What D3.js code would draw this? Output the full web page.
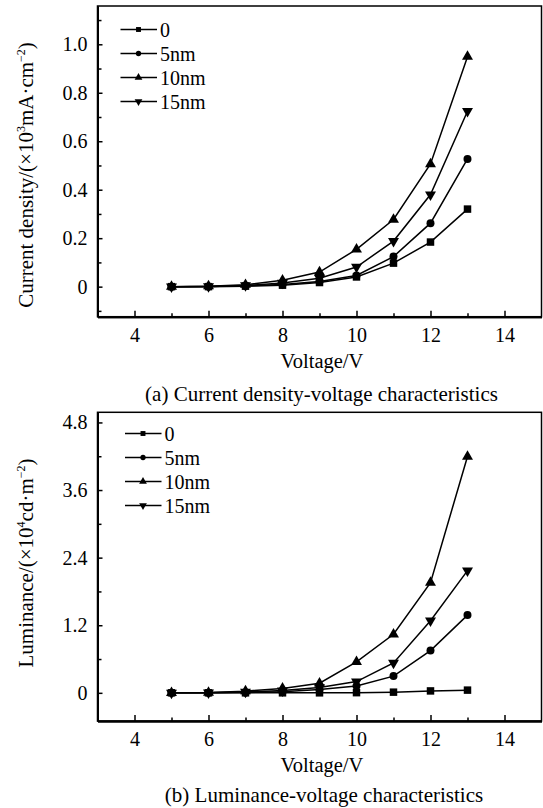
<!DOCTYPE html>
<html>
<head>
<meta charset="utf-8">
<script src="https://cdn.jsdelivr.net/npm/d3@7"></script>
<style>
  body { margin: 0; background: #fff; }
  text { font-family: "Liberation Serif", "Times New Roman", serif; fill: #000; }
</style>
</head>
<body>
<div class="container"></div>
<script>
const WIDTH = 543;
const HEIGHT = 808;
const SERIF = '"Liberation Serif", "Times New Roman", serif';

// data
const voltage = [5, 6, 7, 8, 9, 10, 11, 12, 13];
const seriesNames = ["0", "5nm", "10nm", "15nm"];

const current0 = [0, 0, 0.002, 0.006, 0.017, 0.040, 0.097, 0.184, 0.320];
const current5 = [0, 0.001, 0.004, 0.009, 0.021, 0.046, 0.124, 0.262, 0.527];
const current10 = [0, 0.002, 0.008, 0.026, 0.060, 0.154, 0.277, 0.506, 0.949];
const current15 = [0, 0.001, 0.005, 0.015, 0.035, 0.081, 0.188, 0.380, 0.724];

const lum0 = [0, 0, 0, 0, 0, 0.003, 0.012, 0.034, 0.048];
const lum5 = [0, 0, 0.005, 0.02, 0.06, 0.12, 0.297, 0.75, 1.38];
const lum10 = [0, 0.005, 0.03, 0.078, 0.17, 0.551, 1.04, 1.956, 4.196];
const lum15 = [0, 0.003, 0.015, 0.04, 0.096, 0.2, 0.53, 1.28, 2.17];

const xTicks = [4, 6, 8, 10, 12, 14];
const xMinorTicks = [5, 7, 9, 11, 13];
const currentTicks = [0, 0.2, 0.4, 0.6, 0.8, 1.0];
const currentMinorTicks = [-0.1, 0.1, 0.3, 0.5, 0.7, 0.9, 1.1];
const lumTicks = [0, 1.2, 2.4, 3.6, 4.8];
const lumMinorTicks = [0.6, 1.8, 3.0, 4.2];

const LEFT = 97.5;
const RIGHT = 541.5;

var symbols = [
    {type: d3.symbolSquare, size: 56, rot: 0, legendSize: 24},
    {type: d3.symbolCircle, size: 50, rot: 0, legendSize: 22},
    {type: d3.symbolTriangle, size: 52, rot: 0, legendSize: 26},
    {type: d3.symbolTriangle, size: 52, rot: 180, legendSize: 26}
];

var translate = function(x, y){
    return "translate(" + x + "," + y + ")";
};

var fmtTick = function(d){
    if (d === 0) return "0";
    return d.toFixed(1);
};

var drawPanel = function(svg, opt){
    var xScale = d3.scaleLinear().domain([3, 15]).range([LEFT, RIGHT]);
    var yScale = d3.scaleLinear().domain(opt.yDomain).range([opt.bottom, opt.top]);

    var g = svg.append('g');

    // frame
    g.append('rect')
        .attr('x', LEFT).attr('y', opt.top)
        .attr('width', RIGHT - LEFT).attr('height', opt.bottom - opt.top)
        .attr('fill', 'none').attr('stroke', '#000').attr('stroke-width', 1.5);

    g.append('g')
        .attr('transform', translate(0, opt.bottom))
        .call(d3.axisBottom(xScale).tickValues(xTicks).tickSizeInner(-6).tickSizeOuter(0).tickPadding(11));
    g.append('g')
        .attr('transform', translate(0, opt.bottom))
        .call(d3.axisBottom(xScale).tickValues(xMinorTicks).tickSizeInner(-3.5).tickSizeOuter(0).tickFormat(""));

    g.append('g')
        .attr('transform', translate(LEFT, 0))
        .call(d3.axisLeft(yScale).tickValues(opt.ticks).tickSizeInner(-5).tickSizeOuter(0).tickPadding(10).tickFormat(fmtTick));
    g.append('g')
        .attr('transform', translate(LEFT, 0))
        .call(d3.axisLeft(yScale).tickValues(opt.minorTicks).tickSizeInner(-4).tickSizeOuter(0).tickFormat(""));

    g.selectAll('g').attr('font-family', SERIF);
    g.selectAll('.domain').attr('stroke-width', 2).attr('stroke', '#000');
    g.selectAll('.tick line').attr('stroke-width', 1.5).attr('stroke', '#000');
    g.selectAll('.tick text').attr('font-size', 20).attr('fill', '#000');

    // series lines and markers
    var line = d3.line()
        .x(function(d){ return xScale(d.x); })
        .y(function(d){ return yScale(d.y); });

    opt.series.forEach(function(values, i){
        var pts = voltage.map(function(v, j){ return {x: v, y: values[j]}; });
        g.append('path')
            .datum(pts)
            .attr('d', line)
            .attr('fill', 'none')
            .attr('stroke', '#000')
            .attr('stroke-width', 1.5);
        g.append('g').selectAll('path')
            .data(pts)
            .enter()
            .append('path')
            .attr('d', d3.symbol().type(symbols[i].type).size(symbols[i].size))
            .attr('transform', function(d){
                return translate(xScale(d.x), yScale(d.y)) + " rotate(" + symbols[i].rot + ")";
            })
            .attr('fill', '#000');
    });

    // legend
    var lg = g.append('g');
    seriesNames.forEach(function(name, i){
        var y = opt.legendY + i * 24;
        lg.append('line')
            .attr('x1', opt.legendX).attr('x2', opt.legendX + 36.5)
            .attr('y1', y).attr('y2', y)
            .attr('stroke', '#000').attr('stroke-width', 1.5);
        lg.append('path')
            .attr('d', d3.symbol().type(symbols[i].type).size(symbols[i].legendSize))
            .attr('transform', translate(opt.legendX + 18, y) + " rotate(" + symbols[i].rot + ")")
            .attr('fill', '#000');
        lg.append('text')
            .attr('x', opt.legendX + 39.5).attr('y', y + 7)
            .attr('font-size', 20)
            .text(name);
    });

    // axis titles
    g.append('text')
        .attr('x', (LEFT + RIGHT) / 2 + 2.5)
        .attr('y', opt.bottom + 51)
        .attr('text-anchor', 'middle')
        .attr('font-size', 20.5)
        .text("Voltage/V");

    var yt = g.append('text')
        .attr('transform', translate(33, opt.yTitleY) + " rotate(-90)")
        .attr('text-anchor', 'middle')
        .attr('font-size', 21);
    yt.append('tspan').text(opt.yTitle[0]);
    yt.append('tspan').attr('font-size', 12).attr('dy', -8).text(opt.yTitle[1]);
    yt.append('tspan').attr('dy', 8).text(opt.yTitle[2]);
    yt.append('tspan').attr('font-size', 12).attr('dy', -8).text(opt.yTitle[3]);
    yt.append('tspan').attr('dy', 8).text(opt.yTitle[4]);

    g.append('text')
        .attr('x', opt.captionX)
        .attr('y', opt.captionY)
        .attr('text-anchor', 'middle')
        .attr('font-size', 21)
        .text(opt.caption);
};

var loadChart = function(){
    var svg = d3.select('.container').append('svg')
        .attr('width', WIDTH)
        .attr('height', HEIGHT);

    drawPanel(svg, {
        top: 6, bottom: 316.7,
        yDomain: [-0.124, 1.158],
        ticks: currentTicks, minorTicks: currentMinorTicks,
        series: [current0, current5, current10, current15],
        legendX: 120.5, legendY: 29.5,
        yTitle: ["Current density/(\u00d710", "3", "mA\u00b7cm", "\u22122", ")"],
        yTitleY: 175,
        caption: "(a) Current density-voltage characteristics",
        captionX: 321.5, captionY: 401
    });

    drawPanel(svg, {
        top: 412.3, bottom: 721,
        yDomain: [-0.5, 4.98],
        ticks: lumTicks, minorTicks: lumMinorTicks,
        series: [lum0, lum5, lum10, lum15],
        legendX: 125, legendY: 433.5,
        yTitle: ["Luminance/(\u00d710", "4", "cd\u00b7m", "\u22122", ")"],
        yTitleY: 563,
        caption: "(b) Luminance-voltage characteristics",
        captionX: 324, captionY: 802
    });
};

window.onload = loadChart;
</script>
</body>
</html>
